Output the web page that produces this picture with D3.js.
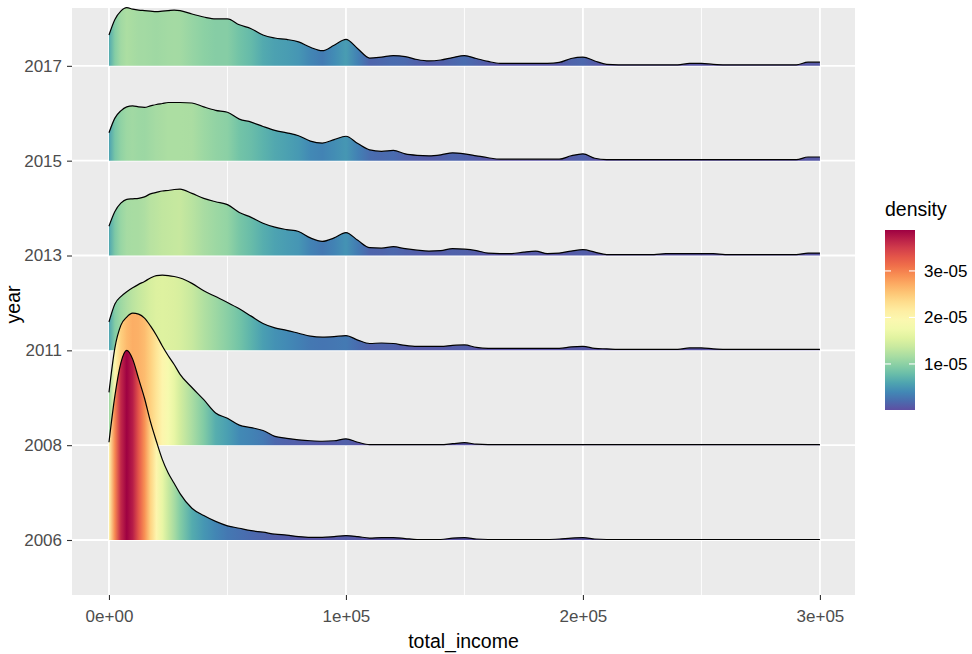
<!DOCTYPE html>
<html><head><meta charset="utf-8">
<script src="https://cdn.jsdelivr.net/npm/d3@7"></script>
<style>
body{margin:0;background:#fff}
svg{display:block;font-family:"Liberation Sans",Arial,sans-serif}
</style>
</head><body>
<svg id="chart" width="972" height="654"></svg>
<script>
// ---------------- data ----------------
const years = ["2006","2008","2011","2013","2015","2017"];
const incomeGrid = [0,2500,5000,7500,10000,12500,15000,17500,20000,22500,25000,27500,30000,
  35000,40000,45000,50000,55000,60000,65000,70000,75000,80000,
  85000,90000,95000,100000,105000,110000,115000,120000,125000,130000,
  135000,140000,145000,150000,155000,160000,165000,170000,175000,180000,
  185000,190000,195000,200000,205000,210000,215000,220000,225000,230000,
  235000,240000,245000,250000,255000,260000,265000,270000,275000,280000,
  285000,290000,295000,300000];
// densities in units of 1e-5
const density2006 = [2.00,2.95,3.62,3.88,3.70,3.30,2.90,2.42,2.02,1.65,1.37,1.16,0.95,
  0.65,0.50,0.38,0.29,0.24,0.19,0.16,0.12,0.10,0.07,
  0.055,0.055,0.07,0.09,0.07,0.04,0.05,0.05,0.03,0.01,
  0.01,0.01,0.04,0.05,0.02,0.01,0.01,0.01,0.01,0.01,
  0.01,0.02,0.04,0.05,0.02,0.01,0.01,0.01,0.01,0.01,
  0.01,0.01,0.01,0.01,0.01,0.01,0.01,0.01,0.01,0.01,
  0.01,0.01,0.01,0.01];
const density2008 = [1.08,1.99,2.45,2.62,2.70,2.68,2.60,2.44,2.25,2.03,1.83,1.65,1.45,
  1.18,0.93,0.66,0.55,0.41,0.36,0.30,0.18,0.14,0.11,
  0.09,0.08,0.09,0.13,0.06,0.01,0.01,0.01,0.01,0.01,
  0.01,0.01,0.03,0.05,0.02,0.01,0.01,0.01,0.01,0.01,
  0.01,0.01,0.01,0.01,0.01,0.01,0.01,0.01,0.01,0.01,
  0.01,0.01,0.01,0.01,0.01,0.01,0.01,0.01,0.01,0.01,
  0.01,0.01,0.01,0.01];
const density2011 = [0.58,0.95,1.10,1.20,1.28,1.35,1.41,1.48,1.53,1.54,1.53,1.51,1.48,
  1.37,1.22,1.10,0.98,0.85,0.70,0.55,0.46,0.41,0.35,
  0.29,0.27,0.28,0.30,0.21,0.14,0.15,0.14,0.10,0.08,
  0.08,0.08,0.10,0.11,0.06,0.04,0.04,0.04,0.04,0.04,
  0.04,0.04,0.07,0.08,0.04,0.03,0.02,0.02,0.02,0.02,
  0.02,0.02,0.05,0.05,0.03,0.02,0.02,0.02,0.02,0.02,
  0.02,0.02,0.02,0.02];
const density2013 = [0.60,0.90,1.07,1.15,1.16,1.17,1.20,1.26,1.29,1.32,1.33,1.35,1.36,
  1.27,1.17,1.10,1.04,0.88,0.78,0.66,0.58,0.53,0.49,
  0.36,0.29,0.36,0.47,0.31,0.16,0.15,0.18,0.14,0.11,
  0.09,0.10,0.14,0.13,0.10,0.05,0.04,0.04,0.07,0.09,
  0.04,0.05,0.09,0.12,0.07,0.02,0.02,0.02,0.02,0.02,
  0.04,0.04,0.04,0.04,0.04,0.02,0.02,0.02,0.02,0.02,
  0.02,0.02,0.05,0.05];
const density2015 = [0.57,0.87,1.02,1.10,1.12,1.10,1.09,1.12,1.15,1.17,1.19,1.19,1.19,
  1.18,1.10,1.03,0.99,0.85,0.79,0.70,0.62,0.57,0.51,
  0.40,0.36,0.43,0.50,0.35,0.22,0.19,0.21,0.14,0.11,
  0.10,0.12,0.16,0.14,0.10,0.06,0.03,0.03,0.03,0.03,
  0.03,0.03,0.10,0.14,0.05,0.02,0.02,0.02,0.02,0.02,
  0.02,0.02,0.02,0.02,0.02,0.02,0.02,0.02,0.02,0.02,
  0.02,0.02,0.075,0.075];
const density2017 = [0.63,0.95,1.12,1.19,1.16,1.14,1.13,1.12,1.11,1.12,1.13,1.14,1.13,
  1.06,1.00,0.96,0.96,0.84,0.76,0.63,0.57,0.54,0.49,
  0.38,0.31,0.42,0.54,0.35,0.16,0.18,0.21,0.19,0.13,
  0.10,0.12,0.17,0.21,0.15,0.09,0.05,0.05,0.05,0.05,
  0.05,0.07,0.15,0.18,0.10,0.03,0.02,0.02,0.02,0.02,
  0.02,0.02,0.05,0.05,0.03,0.02,0.02,0.02,0.02,0.02,
  0.02,0.02,0.075,0.075];
const densityUnit = 1e-5;
const xTickValues = [0,100000,200000,300000];
const xTickLabels = ["0e+00","1e+05","2e+05","3e+05"];
const xMinorValues = [50000,150000,250000];
const legendTickValues = [1,2,3];
const legendTickLabels = ["1e-05","2e-05","3e-05"];

const seriesByYear = {"2006":density2006,"2008":density2008,"2011":density2011,
  "2013":density2013,"2015":density2015,"2017":density2017};

// ---------------- layout ----------------
const svg = d3.select("#chart");
const P = {left:72, right:855, top:8, bottom:595};
const x = d3.scaleLinear().domain([-15600, 314800]).range([P.left, P.right]);
const yIdx = d3.scaleLinear().domain([-0.58, 5.61]).range([P.bottom, P.top]);
const yOf = yr => yIdx(years.indexOf(yr));

const allD = years.flatMap(y => seriesByYear[y]);
const maxD = d3.max(allD), minD = d3.min(allD);
const unitPx = yIdx(0) - yIdx(1);
const h = d3.scaleLinear().domain([0, maxD]).range([0, 2 * unitPx]);
const color = d3.scaleSequential(t => d3.interpolateSpectral(1 - t)).domain([minD, maxD]);

// panel
svg.append("rect").attr("x",P.left).attr("y",P.top)
  .attr("width",P.right-P.left).attr("height",P.bottom-P.top).attr("fill","#EBEBEB");

const grid = svg.append("g");
xMinorValues.forEach(v => grid.append("line")
  .attr("x1",x(v)).attr("x2",x(v)).attr("y1",P.top).attr("y2",P.bottom)
  .attr("stroke","#fff").attr("stroke-width",0.9));
xTickValues.forEach(v => grid.append("line")
  .attr("x1",x(v)).attr("x2",x(v)).attr("y1",P.top).attr("y2",P.bottom)
  .attr("stroke","#fff").attr("stroke-width",1.8));
years.forEach(yr => grid.append("line")
  .attr("x1",P.left).attr("x2",P.right).attr("y1",yOf(yr)).attr("y2",yOf(yr))
  .attr("stroke","#fff").attr("stroke-width",1.8));

// ridges
const defs = svg.append("defs");
const x0 = x(incomeGrid[0]), x1 = x(incomeGrid[incomeGrid.length-1]);
const ridges = svg.append("g");
years.slice().reverse().forEach(yr => {
  const vals = seriesByYear[yr];
  const base = yOf(yr);
  const pts = incomeGrid.map((v,i) => ({inc:v, d:vals[i]}));
  const gid = "grad" + yr;
  const g = defs.append("linearGradient").attr("id",gid)
    .attr("gradientUnits","userSpaceOnUse")
    .attr("x1",x0).attr("x2",x1).attr("y1",0).attr("y2",0);
  pts.forEach(p => g.append("stop")
    .attr("offset",(x(p.inc)-x0)/(x1-x0))
    .attr("stop-color",color(p.d)));
  const area = d3.area().curve(d3.curveMonotoneX)
    .x(p => x(p.inc)).y0(base).y1(p => base - h(p.d));
  const line = d3.line().curve(d3.curveMonotoneX)
    .x(p => x(p.inc)).y(p => base - h(p.d));
  ridges.append("path").attr("d",area(pts)).attr("fill",`url(#${gid})`);
  ridges.append("path").attr("d",line(pts)).attr("fill","none")
    .attr("stroke","#000").attr("stroke-width",1.2).attr("stroke-linejoin","round");
});

// axes
const xAxis = svg.append("g").attr("transform",`translate(0,${P.bottom})`)
  .call(d3.axisBottom(x).tickValues(xTickValues)
    .tickFormat((d,i) => xTickLabels[i]).tickSize(5).tickPadding(10));
const yAxis = svg.append("g").attr("transform",`translate(${P.left},0)`)
  .call(d3.axisLeft(yIdx).tickValues(years.map((d,i)=>i))
    .tickFormat(i => years[i]).tickSize(5).tickPadding(5));
[xAxis,yAxis].forEach(a => {
  a.select(".domain").remove();
  a.selectAll(".tick line").attr("stroke","#333").attr("stroke-width",1.1);
  a.selectAll(".tick text").attr("fill","#4D4D4D").attr("font-size",17)
    .attr("font-family","Liberation Sans, Arial, sans-serif");
});

svg.append("text").attr("x",(P.left+P.right)/2).attr("y",648)
  .attr("text-anchor","middle").attr("font-size",19.5).attr("fill","#000").text("total_income");
svg.append("text").attr("transform",`translate(20,${(P.top+P.bottom)/2+3}) rotate(-90)`)
  .attr("text-anchor","middle").attr("font-size",19.5).attr("fill","#000").text("year");

// legend
const L = {x:885, w:30, top:230, bottom:410};
const yLeg = d3.scaleLinear().domain([minD, maxD]).range([L.bottom, L.top]);
svg.append("text").attr("x",L.x).attr("y",216).attr("font-size",19.5).attr("fill","#000").text("density");
const lg = defs.append("linearGradient").attr("id","legGrad")
  .attr("x1",0).attr("x2",0).attr("y1",1).attr("y2",0);
d3.range(0,1.0001,0.05).forEach(t => lg.append("stop").attr("offset",t)
  .attr("stop-color",color(minD + t*(maxD-minD))));
svg.append("rect").attr("x",L.x).attr("y",L.top).attr("width",L.w)
  .attr("height",L.bottom-L.top).attr("fill","url(#legGrad)");
legendTickValues.forEach((v,i) => {
  const yy = yLeg(v);
  svg.append("line").attr("x1",L.x).attr("x2",L.x+6).attr("y1",yy).attr("y2",yy)
    .attr("stroke","#fff").attr("stroke-width",1.1);
  svg.append("line").attr("x1",L.x+L.w-6).attr("x2",L.x+L.w).attr("y1",yy).attr("y2",yy)
    .attr("stroke","#fff").attr("stroke-width",1.1);
  svg.append("text").attr("x",L.x+L.w+9).attr("y",yy).attr("dy","0.35em")
    .attr("font-size",17).attr("fill","#000").text(legendTickLabels[i]);
});
</script>
</body></html>
